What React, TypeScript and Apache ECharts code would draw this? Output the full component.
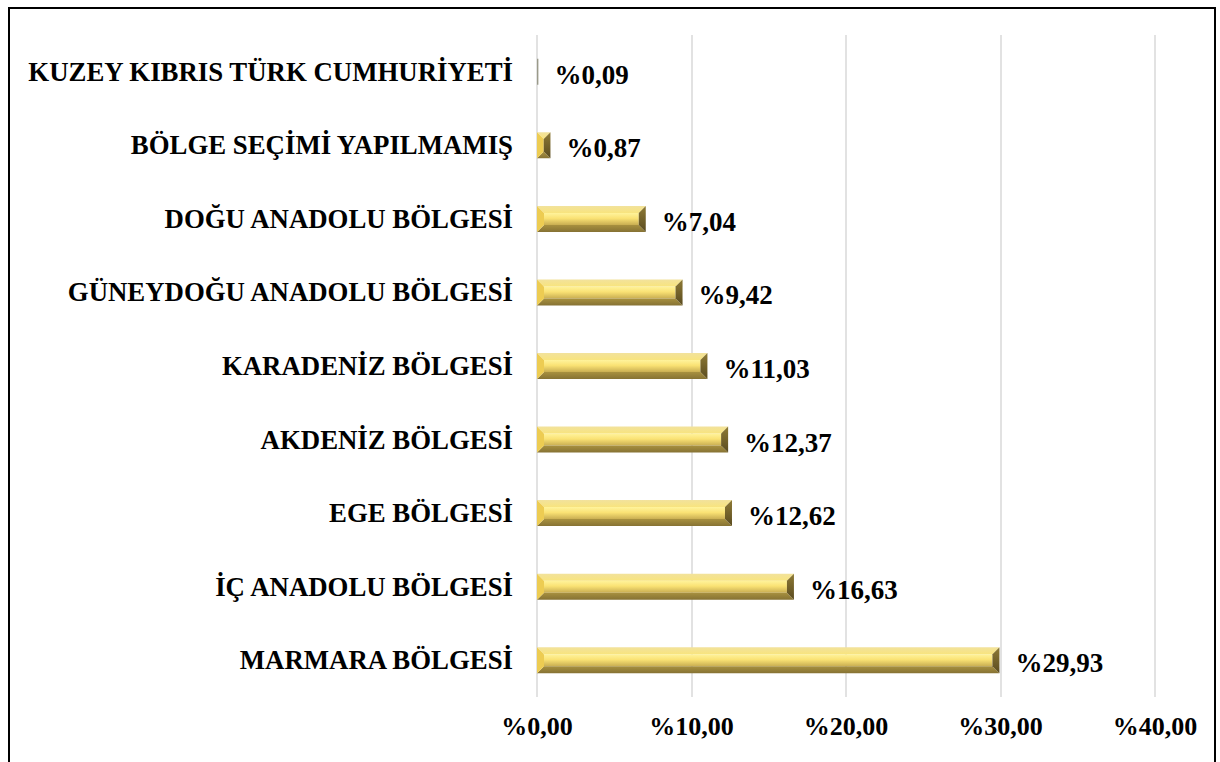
import React, { useEffect, useRef } from "react";
import * as echarts from "echarts";

const categories = [
  "MARMARA BÖLGESİ",
  "İÇ ANADOLU BÖLGESİ",
  "EGE BÖLGESİ",
  "AKDENİZ BÖLGESİ",
  "KARADENİZ BÖLGESİ",
  "GÜNEYDOĞU ANADOLU BÖLGESİ",
  "DOĞU ANADOLU BÖLGESİ",
  "BÖLGE SEÇİMİ YAPILMAMIŞ",
  "KUZEY KIBRIS TÜRK CUMHURİYETİ",
];
const shares = [29.93, 16.63, 12.62, 12.37, 11.03, 9.42, 7.04, 0.87, 0.09];
const axisMin = 0;
const axisMax = 40;
const axisStep = 10;

const fmt = (v: number) => "%" + v.toFixed(2).replace(".", ",");
const FONT = "'Liberation Serif', 'Times New Roman', serif";

export default function App() {
  const ref = useRef<HTMLDivElement>(null);
  useEffect(() => {
    if (!ref.current) return;
    const chart = echarts.init(ref.current, undefined, { renderer: "svg" });
    const BAR_H = 26;
    chart.setOption({
      animation: false,
      backgroundColor: "#ffffff",
      grid: { left: 537, right: 65, top: 35, bottom: 65, containLabel: false },
      graphic: [
        {
          type: "rect",
          silent: true,
          shape: { x: 9, y: 8, width: 1206, height: 800 },
          style: { fill: "none", stroke: "#000000", lineWidth: 2 },
          z: 100,
        },
      ],
      xAxis: {
        type: "value",
        min: axisMin,
        max: axisMax,
        interval: axisStep,
        axisLine: { show: false },
        axisTick: { show: false },
        splitLine: { show: true, lineStyle: { color: "#d9d9d9", width: 1.5 } },
        axisLabel: {
          formatter: (v: number) => fmt(v),
          fontFamily: FONT,
          fontWeight: "bold",
          fontSize: 26,
          color: "#000000",
          margin: 16,
        },
      },
      yAxis: {
        type: "category",
        data: categories,
        axisLine: { show: false },
        axisTick: { show: false },
        axisLabel: {
          fontFamily: FONT,
          fontWeight: "bold",
          fontSize: 26.8,
          color: "#000000",
          margin: 24,
        },
      },
      series: [
        {
          type: "bar",
          data: shares,
          barWidth: BAR_H,
          itemStyle: { color: "rgba(0,0,0,0)" },
          label: {
            show: true,
            position: "right",
            distance: 16,
            offset: [0, 3],
            formatter: (p: any) => fmt(p.value),
            fontFamily: FONT,
            fontWeight: "bold",
            fontSize: 27,
            color: "#000000",
          },
          z: 2,
        },
        {
          type: "custom",
          data: shares.map((v, i) => [v, i]),
          encode: { x: 0, y: 1 },
          z: 3,
          renderItem: (params: any, api: any) => {
            const v = api.value(0);
            const idx = api.value(1);
            const start = api.coord([0, idx]);
            const end = api.coord([v, idx]);
            const x0 = start[0];
            const x1 = end[0];
            const y0 = start[1] - BAR_H / 2;
            const y1 = start[1] + BAR_H / 2;
            const w = x1 - x0;
            const b = Math.min(7, w / 2);
            if (w < 3) {
              return {
                type: "rect",
                shape: { x: x0, y: y0, width: Math.max(w, 1), height: BAR_H },
                style: { fill: "#9a9a8a" },
              };
            }
            return {
              type: "group",
              children: [
                {
                  type: "rect",
                  shape: { x: x0 + b, y: y0 + b, width: w - 2 * b, height: BAR_H - 2 * b },
                  style: {
                    fill: new echarts.graphic.LinearGradient(0, 0, 0, 1, [
                      { offset: 0, color: "#FFF39C" },
                      { offset: 0.45, color: "#FAE274" },
                      { offset: 1, color: "#C9AE52" },
                    ]),
                  },
                },
                {
                  type: "polygon",
                  shape: { points: [[x0, y0], [x1, y0], [x1 - b, y0 + b], [x0 + b, y0 + b]] },
                  style: {
                    fill: new echarts.graphic.LinearGradient(0, 0, 0, 1, [
                      { offset: 0, color: "#F2E29C" },
                      { offset: 1, color: "#F8E47E" },
                    ]),
                  },
                },
                {
                  type: "polygon",
                  shape: { points: [[x0, y1], [x1, y1], [x1 - b, y1 - b], [x0 + b, y1 - b]] },
                  style: {
                    fill: new echarts.graphic.LinearGradient(0, 0, 0, 1, [
                      { offset: 0, color: "#A8913F" },
                      { offset: 1, color: "#867234" },
                    ]),
                  },
                },
                {
                  type: "polygon",
                  shape: { points: [[x0, y0], [x0 + b, y0 + b], [x0 + b, y1 - b], [x0, y1]] },
                  style: { fill: "#EDCC52" },
                },
                {
                  type: "polygon",
                  shape: { points: [[x1, y0], [x1 - b, y0 + b], [x1 - b, y1 - b], [x1, y1]] },
                  style: {
                    fill: new echarts.graphic.LinearGradient(0, 0, 0, 1, [
                      { offset: 0, color: "#8E7A35" },
                      { offset: 1, color: "#5A4B20" },
                    ]),
                  },
                },
              ],
            };
          },
        },
      ],
    });
    return () => chart.dispose();
  }, []);
  return (
    <div
      ref={ref}
      style={{ position: "absolute", left: 0, top: 0, width: 1220, height: 762, background: "#fff" }}
    />
  );
}
